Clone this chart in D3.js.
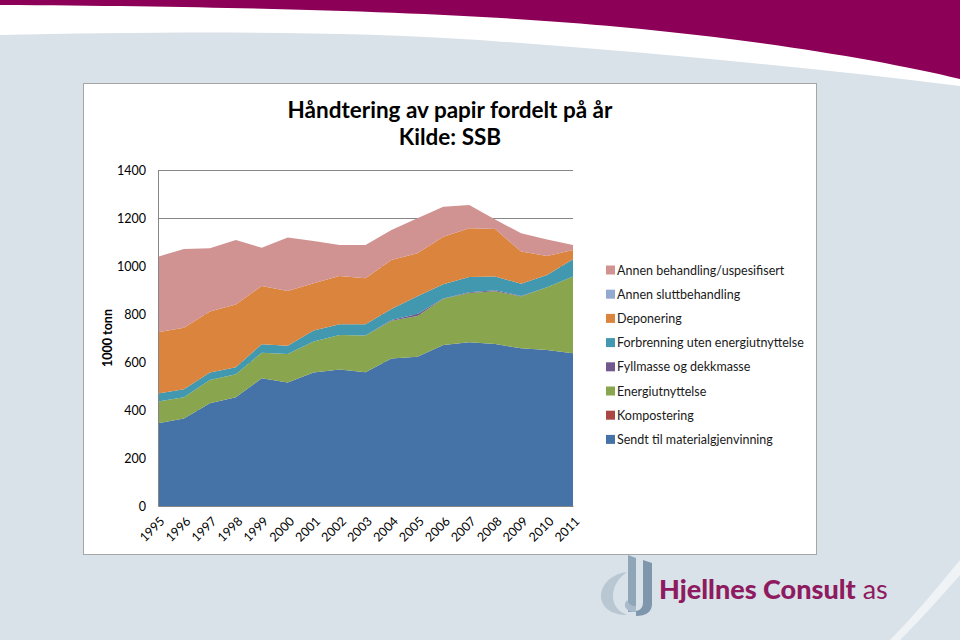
<!DOCTYPE html>
<html><head><meta charset="utf-8">
<script src="https://cdn.jsdelivr.net/npm/d3@7"></script>
<style>html,body{margin:0;padding:0;background:#fff;}svg{display:block;}</style>
</head><body>
<svg id="c" width="960" height="640"></svg>
<script>
const years = [1995,1996,1997,1998,1999,2000,2001,2002,2003,2004,2005,2006,2007,2008,2009,2010,2011];
const sendtTilMaterialgjenvinning = [345,365,428,453,532,515,556,569,557,615,622,671,682,675,657,650,636];
const kompostering = [0,0,0,0,0,0,0,0,0,0,0,0,0,0,0,0,0];
const energiutnyttelse = [90,88,97,96,107,118,129,143,153,157,170,193,206,220,216,261,320];
const fyllmasseOgDekkmasse = [0,0,0,0,0,0,0,0,0,3,8,1,3,4,2,0,0];
const forbrenningUtenEnergiutnyttelse = [34,33,31,29,35,35,46,45,47,46,74,59,63,57,51,51,72];
const deponering = [255,257,254,262,243,228,197,201,192,204,179,198,203,198,134,80,39];
const annenSluttbehandling = [0,0,0,0,0,0,0,0,0,0,0,0,0,0,0,0,0];
const annenBehandlingUspesifisert = [315,328,264,268,159,223,176,130,139,125,146,125,97,40,76,68,21];
const yTicks = [0,200,400,600,800,1000,1200,1400];

const seriesNames = ["Sendt til materialgjenvinning","Kompostering","Energiutnyttelse","Fyllmasse og dekkmasse","Forbrenning uten energiutnyttelse","Deponering","Annen sluttbehandling","Annen behandling/uspesifisert"];
const seriesValues = [sendtTilMaterialgjenvinning,kompostering,energiutnyttelse,fyllmasseOgDekkmasse,forbrenningUtenEnergiutnyttelse,deponering,annenSluttbehandling,annenBehandlingUspesifisert];
const seriesColors = ["#4572A7","#AA4643","#89A54E","#71588F","#4198AF","#DB843D","#93A9CF","#D19392"];

const svg = d3.select("#c");
const FONT = "Lato, 'Open Sans', sans-serif";

// background
svg.append("rect").attr("width",960).attr("height",640).attr("fill","#fff");
svg.append("path").attr("fill","#D9E2E9")
  .attr("d","M0,35 C150,32 330,30 480,40 C640,52 800,66 960,86 L960,640 L0,640 Z");
svg.append("path").attr("fill","#FFFFFF").attr("opacity",0.6)
  .attr("d","M960,560 C935,590 915,615 890,640 L900,640 C925,615 945,592 960,575 Z");
svg.append("path").attr("fill","#8C0057")
  .attr("d","M0,0 L960,0 L960,79 C880,60 760,40 620,27 C480,14 300,7 0,5 Z");

// chart box
svg.append("rect").attr("x",83.5).attr("y",83.5).attr("width",733).attr("height",471)
  .attr("fill","#fff").attr("stroke","#A6A6A6").attr("stroke-width",1);

// title
const title = svg.append("text").attr("x",450).attr("text-anchor","middle")
  .attr("font-family",FONT).attr("font-weight","bold").attr("font-size",22.5).attr("fill","#000");
title.append("tspan").attr("x",450).attr("y",118).text("Håndtering av papir fordelt på år");
title.append("tspan").attr("x",450).attr("y",145).text("Kilde: SSB");

// scales
const x = d3.scalePoint().domain(years).range([158,573]);
const y = d3.scaleLinear().domain([0,1400]).range([506,170]);

// gridlines
svg.append("g").selectAll("line").data(yTicks.filter(d=>d>0)).join("line")
  .attr("x1",158).attr("x2",573).attr("y1",d=>Math.round(y(d))+0.5).attr("y2",d=>Math.round(y(d))+0.5)
  .attr("stroke","#868686").attr("stroke-width",1);

// stack
const table = years.map((yr,i)=>{const o={year:yr};seriesNames.forEach((n,k)=>o[n]=seriesValues[k][i]);return o;});
const stacked = d3.stack().keys(seriesNames)(table);
const area = d3.area().x(d=>x(d.data.year)).y0(d=>y(d[0])).y1(d=>y(d[1]));
svg.append("g").selectAll("path").data(stacked).join("path")
  .attr("d",area).attr("fill",(d,i)=>seriesColors[i]);

// axes
const yAxis = d3.axisLeft(y).tickValues(yTicks).tickFormat(d3.format("d")).tickSize(0).tickPadding(12);
const gy = svg.append("g").attr("transform","translate(158,0)").call(yAxis);
gy.select(".domain").attr("stroke","#868686");
gy.selectAll("text").attr("font-family",FONT).attr("font-size",12.5).attr("fill","#000");

const xAxis = d3.axisBottom(x).tickFormat(d3.format("d")).tickSize(0).tickPadding(0);
const gx = svg.append("g").attr("transform","translate(0,506)").call(xAxis);
gx.select(".domain").attr("stroke","#868686");
gx.selectAll("text").attr("font-family",FONT).attr("font-size",12.5).attr("fill","#000")
  .attr("text-anchor","end").attr("dy",null).attr("y",0)
  .attr("transform","translate(7,16) rotate(-45)");

// y title
svg.append("text").attr("transform","translate(112,338) rotate(-90)")
  .attr("text-anchor","middle").attr("font-family",FONT).attr("font-weight","bold")
  .attr("font-size",12.5).attr("fill","#000").text("1000 tonn");

// legend
const legendOrder = seriesNames.map((n,i)=>i).reverse();
const lg = svg.append("g").selectAll("g").data(legendOrder).join("g")
  .attr("transform",(d,j)=>`translate(606,${270 + j*24.2})`);
lg.append("rect").attr("x",0).attr("y",-4.5).attr("width",9).attr("height",9).attr("fill",d=>seriesColors[d]);
lg.append("text").attr("x",11).attr("y",4.5).attr("font-family",FONT).attr("font-size",12.5)
  .attr("fill","#1a1a1a").text(d=>seriesNames[d]);

// logo
const logo = svg.append("g");
logo.append("path").attr("fill","#B9C7D3")
  .attr("d","M627,572 C610,574 601,586 601,596 C601,607 611,615 627,615 C617,611 613,604 613,596 C613,587 618,578 627,572 Z");
logo.append("path").attr("fill","#8FA6B9").attr("d","M628,555 L636,558 L636,612 L628,612 Z");
logo.append("path").attr("fill","#7E97AD").attr("d","M643,560 L652,563 L652,604 C652,612 646,616 636,616 L636,611 C641,610 643,607 643,602 Z");
logo.append("path").attr("fill","#A9BBCA").attr("d","M627,600 C622,606 626,612 636,612 L636,606 C631,606 629,604 627,600 Z");
const lt = logo.append("text").attr("x",659).attr("y",599).attr("font-family",FONT).attr("font-size",27).attr("fill","#8E1A60");
lt.append("tspan").attr("font-weight","900").text("Hjellnes Consult");
lt.append("tspan").attr("font-weight","normal").text(" as");
</script>
</body></html>
